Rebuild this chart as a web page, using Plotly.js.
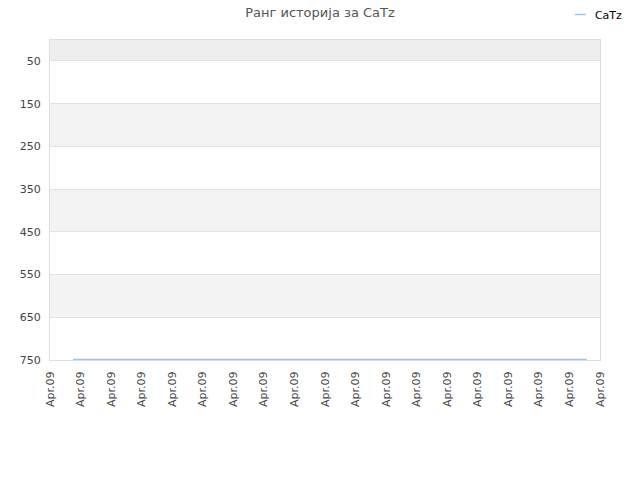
<!DOCTYPE html>
<html>
<head>
<meta charset="utf-8">
<script src="https://cdn.plot.ly/plotly-3.0.1.min.js"></script>
<style>
  html, body { margin: 0; padding: 0; background: #fff; }
  #chart { width: 640px; height: 480px; }
</style>
</head>
<body>
<div id="chart"></div>
<script>
// data
var seriesName = "CaTz";
var chartTitle = "Ранг историја за CaTz";
var xPos = [0.75, 3, 17.57];
var rank = [749, 749, 749];
var tickPos = [0, 1, 2, 3, 4, 5, 6, 7, 8, 9, 10, 11, 12, 13, 14, 15, 16, 17, 18];
var tickText = ["Apr.09", "Apr.09", "Apr.09", "Apr.09", "Apr.09", "Apr.09", "Apr.09",
  "Apr.09", "Apr.09", "Apr.09", "Apr.09", "Apr.09", "Apr.09", "Apr.09", "Apr.09",
  "Apr.09", "Apr.09", "Apr.09", "Apr.09"];
var yTicks = [50, 150, 250, 350, 450, 550, 650, 750];
var yTop = 1;
var yBottom = 750;

// striped background bands between gridlines
var shapes = [];
shapes.push({type: 'rect', xref: 'paper', yref: 'y', x0: 0, x1: 1,
  y0: yTop, y1: yTicks[0], fillcolor: '#eeeeee', line: {width: 0}, layer: 'below'});
for (var i = 1; i + 1 < yTicks.length; i += 2) {
  shapes.push({type: 'rect', xref: 'paper', yref: 'y', x0: 0, x1: 1,
    y0: yTicks[i], y1: yTicks[i + 1], fillcolor: '#f3f3f3', line: {width: 0}, layer: 'below'});
}

var trace = {
  x: xPos,
  y: rank,
  name: seriesName,
  type: 'scatter',
  mode: 'lines',
  line: {color: '#99c5ee', width: 1.5},
  showlegend: true
};

var layout = {
  width: 640,
  height: 480,
  margin: {l: 50, r: 40, t: 40, b: 120},
  paper_bgcolor: '#ffffff',
  plot_bgcolor: '#ffffff',
  font: {family: 'DejaVu Sans, sans-serif', size: 11, color: '#444'},
  title: {
    text: chartTitle,
    font: {family: 'DejaVu Sans, sans-serif', size: 13, color: '#555'},
    x: 0.5, xanchor: 'center', y: 0.975, yanchor: 'middle'
  },
  showlegend: true,
  legend: {
    x: 0.918, xanchor: 'left', y: 1.004, yanchor: 'top', yref: 'container',
    font: {size: 11, color: '#000'},
    bgcolor: 'rgba(0,0,0,0)', itemwidth: 30
  },
  xaxis: {
    range: [0, 18],
    tickmode: 'array',
    tickvals: tickPos,
    ticktext: tickText,
    tickangle: -90,
    showgrid: false,
    zeroline: false,
    showline: true,
    mirror: true,
    linecolor: '#dddddd',
    ticks: '',
    ticklabelstandoff: 6,
    tickfont: {size: 11, color: '#444'}
  },
  yaxis: {
    range: [yBottom, yTop],
    tickmode: 'array',
    tickvals: yTicks,
    showgrid: true,
    gridcolor: '#e2e2e2',
    zeroline: false,
    showline: true,
    mirror: true,
    linecolor: '#dddddd',
    ticks: '',
    ticklabelstandoff: 6,
    tickfont: {size: 11, color: '#444'}
  },
  shapes: shapes
};

Plotly.newPlot('chart', [trace], layout, {displayModeBar: false, staticPlot: true}).then(function (gd) {
  // shorter legend swatch like the original
  var paths = gd.querySelectorAll('.legend .legendlines path');
  paths.forEach(function (p) { p.setAttribute('d', 'M20,0h11'); });
});
</script>
</body>
</html>
